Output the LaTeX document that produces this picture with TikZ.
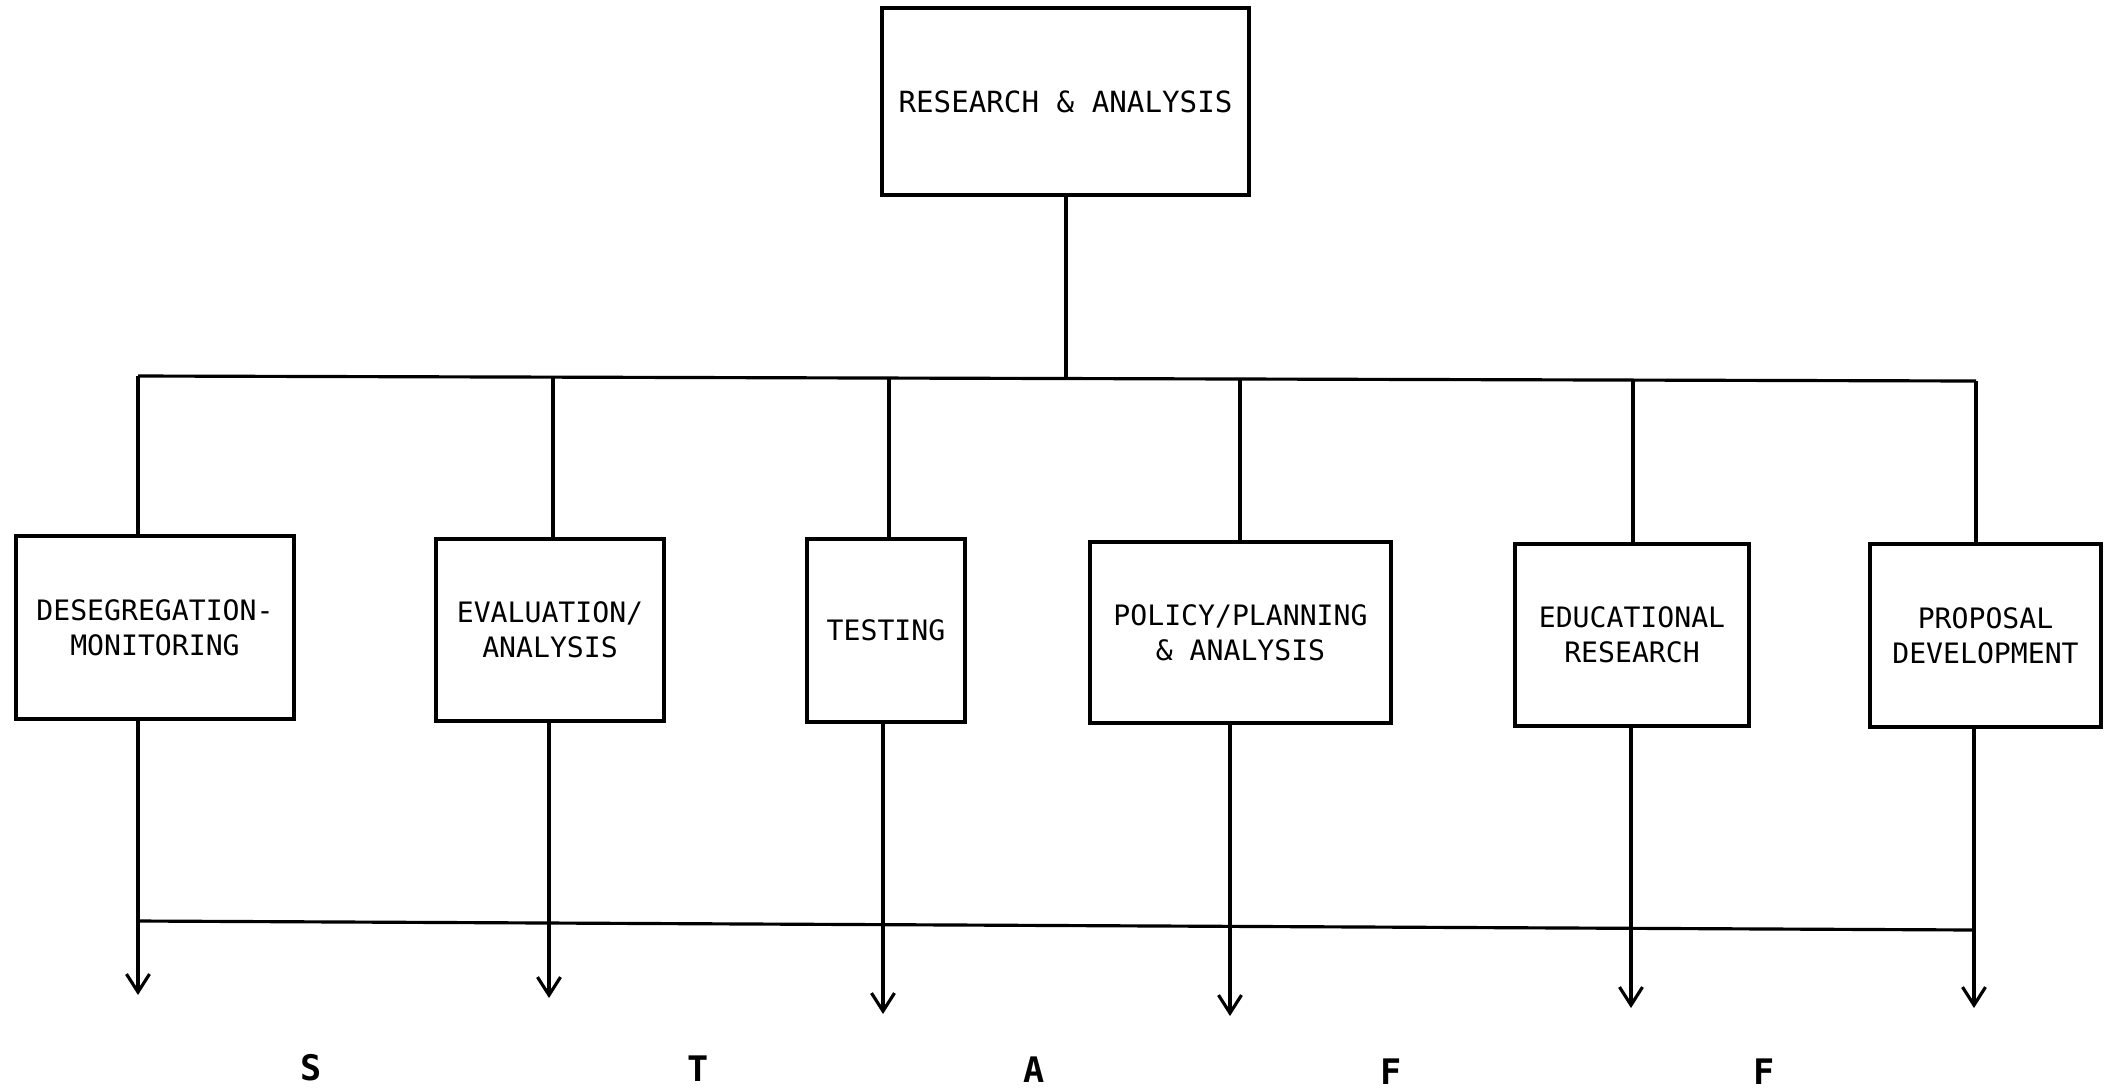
\documentclass[tikz,border=0pt]{standalone}
\usepackage{fontspec}
\newfontfamily\typefont{DejaVu Sans Mono}
\usetikzlibrary{arrows.meta}
\tikzset{
  unitbox/.style={draw, line width=1.1pt, align=center, inner sep=0pt,
    font=\typefont\fontsize{8}{10}\selectfont},
  conn/.style={line width=0.9pt},
  arr/.style={line width=0.9pt, -{Straight Barb[length=1.8mm,width=2.3mm]}},
  letter/.style={font=\typefont\bfseries\fontsize{10}{12}\selectfont, inner sep=0pt}
}
\begin{document}
\begin{tikzpicture}[x=0.01cm,y=-0.01cm]
\useasboundingbox (0,0) rectangle (2108,1090);
% top box
\node[unitbox, minimum width=3.67cm, minimum height=1.87cm,
  font=\typefont\fontsize{8.3}{10}\selectfont] (top) at (1065.5,101.5) {RESEARCH \& ANALYSIS};
% child boxes
\node[unitbox, minimum width=2.78cm, minimum height=1.83cm] (d1) at (155,627.5) {DESEGREGATION-\\MONITORING};
\node[unitbox, minimum width=2.28cm, minimum height=1.82cm] (d2) at (550,630) {EVALUATION/\\ANALYSIS};
\node[unitbox, minimum width=1.58cm, minimum height=1.83cm] (d3) at (886,630.5) {TESTING};
\node[unitbox, minimum width=3.01cm, minimum height=1.81cm] (d4) at (1240.5,632.5) {POLICY/PLANNING\\\& ANALYSIS};
\node[unitbox, minimum width=2.34cm, minimum height=1.82cm] (d5) at (1632,635) {EDUCATIONAL\\RESEARCH};
\node[unitbox, minimum width=2.31cm, minimum height=1.83cm] (d6) at (1985.5,635.5) {PROPOSAL\\DEVELOPMENT};
% upper bus coordinates
\coordinate (bt1) at (138,376);
\coordinate (bt2) at (553,377);
\coordinate (bt3) at (889,378);
\coordinate (bt4) at (1240,379);
\coordinate (bt5) at (1633,380);
\coordinate (bt6) at (1976,381);
\coordinate (btop) at (1066,378);
\draw[conn] (bt1) -- (bt6);
\draw[conn] (top.south -| btop) -- (btop);
\foreach \i in {1,...,6} {
  \draw[conn] (bt\i) -- (bt\i |- d\i.north);
}
% lower arrows
\coordinate (a1) at (138,995);
\coordinate (a2) at (549,998);
\coordinate (a3) at (883,1014);
\coordinate (a4) at (1230,1016);
\coordinate (a5) at (1631,1008);
\coordinate (a6) at (1974,1008);
\foreach \i in {1,...,6} {
  \draw[arr] (a\i |- d\i.south) -- (a\i);
}
% lower bus
\coordinate (bb1) at (138,921);
\coordinate (bb6) at (1974,930);
\draw[conn] (bb1) -- (bb6);
% STAFF
\node[letter] (s1) at (311,1068) {S};
\node[letter] (s2) at (698,1069) {T};
\node[letter] (s3) at (1034,1070) {A};
\node[letter] (s4) at (1391,1072) {F};
\node[letter] (s5) at (1764,1072) {F};
\end{tikzpicture}
\end{document}
